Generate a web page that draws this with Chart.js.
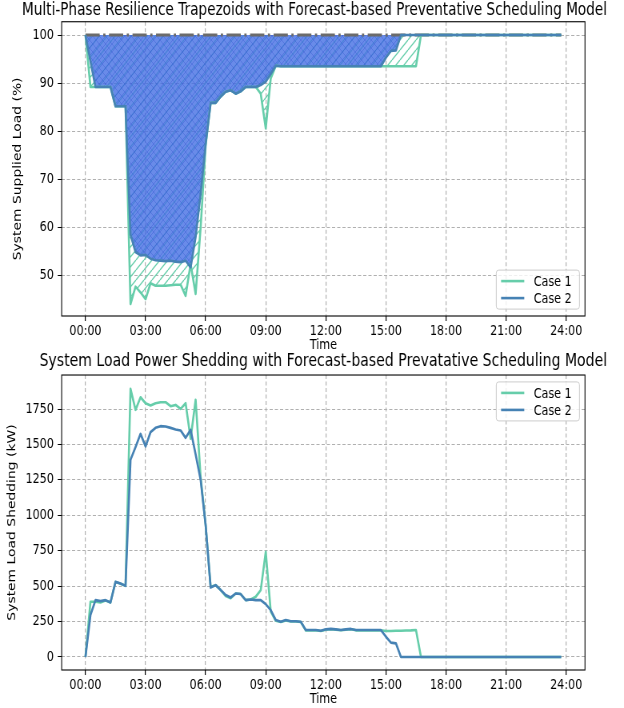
<!DOCTYPE html>
<html>
<head>
<meta charset="utf-8">
<script src="https://cdn.jsdelivr.net/npm/chart.js@4.4.0/dist/chart.umd.min.js"></script>
<style>
  html, body { margin: 0; padding: 0; background: #fff; }
  body { width: 624px; height: 708px; position: relative; overflow: hidden; }
  canvas { position: absolute; left: 0; }
</style>
</head>
<body>
<!-- the reference is horizontally squeezed, so the canvases are drawn wider and scaled down -->
<canvas id="supplyChart" width="780" height="354" style="top:0;width:624px;height:354px"></canvas>
<canvas id="sheddingChart" width="780" height="358" style="top:350px;width:624px;height:358px"></canvas>
<script>
// time of day in hours, one point every 15 minutes
const times = Array.from({length: 96}, (_, i) => i * 0.25);

const hourTicks = [0, 3, 6, 9, 12, 15, 18, 21, 24];
const supplyTicks = [50, 60, 70, 80, 90, 100];
const sheddingTicks = [0, 250, 500, 750, 1000, 1250, 1500, 1750];
const nominalLoad = 100;

// System supplied load (%)
const case1Supply = [
  100, 89.2, 89.2, 89.2, 89.2, 89.2, 85.2, 85.2, 85.2, 44.1,
  47.7, 46.5, 45.1, 48.4, 47.9, 47.9, 47.9, 48.0, 48.1, 48.1,
  45.8, 52.4, 46.2, 60.0, 77.0, 85.9, 85.9, 87.2, 88.2, 88.5,
  87.8, 88.3, 89.2, 89.2, 89.2, 87.8, 80.6, 91.0, 93.6, 93.5,
  93.5, 93.5, 93.5, 93.5, 93.5, 93.5, 93.5, 93.5, 93.5, 93.5,
  93.5, 93.5, 93.5, 93.5, 93.5, 93.5, 93.5, 93.5, 93.5, 93.5,
  93.5, 93.5, 93.5, 93.5, 93.5, 93.5, 93.5, 100, 100, 100,
  100, 100, 100, 100, 100, 100, 100, 100, 100, 100,
  100, 100, 100, 100, 100, 100, 100, 100, 100, 100,
  100, 100, 100, 100, 100, 100
];
const case2Supply = [
  100, 94.5, 89.2, 89.2, 89.2, 89.2, 85.2, 85.2, 85.2, 58.5,
  54.9, 54.2, 54.3, 53.5, 53.2, 53.1, 53.0, 53.1, 52.9, 52.8,
  53.1, 51.7, 58.0, 67.0, 77.4, 85.9, 85.9, 87.2, 88.2, 88.5,
  87.8, 88.3, 89.2, 89.2, 89.2, 89.6, 90.3, 91.9, 93.6, 93.5,
  93.5, 93.5, 93.5, 93.5, 93.5, 93.5, 93.5, 93.5, 93.5, 93.5,
  93.5, 93.5, 93.5, 93.5, 93.5, 93.5, 93.5, 93.5, 93.5, 93.5,
  95.3, 96.7, 96.8, 100, 100, 100, 100, 100, 100, 100,
  100, 100, 100, 100, 100, 100, 100, 100, 100, 100,
  100, 100, 100, 100, 100, 100, 100, 100, 100, 100,
  100, 100, 100, 100, 100, 100
];

// System load shedding (kW)
const case1Shed = [
  0, 390, 390, 385, 398, 385, 530, 516, 502, 1892,
  1744, 1833, 1791, 1775, 1791, 1798, 1798, 1770, 1779, 1751,
  1791, 1540, 1815, 1270, 930, 495, 507, 472, 430, 415,
  448, 444, 401, 406, 425, 472, 742, 320, 255, 247,
  258, 250, 250, 247, 187, 187, 188, 183, 192, 196,
  192, 188, 192, 196, 188, 188, 188, 188, 188, 188,
  183, 183, 185, 185, 187, 188, 190, 0, 0, 0,
  0, 0, 0, 0, 0, 0, 0, 0, 0, 0,
  0, 0, 0, 0, 0, 0, 0, 0, 0, 0,
  0, 0, 0, 0, 0, 0
];
const case2Shed = [
  0, 296, 401, 394, 401, 385, 530, 519, 502, 1392,
  1481, 1575, 1486, 1587, 1617, 1629, 1627, 1617, 1606, 1599,
  1547, 1603, 1430, 1250, 930, 490, 507, 472, 437, 420,
  448, 444, 401, 406, 401, 401, 373, 331, 261, 249,
  261, 252, 252, 249, 190, 190, 190, 185, 195, 198,
  195, 190, 195, 198, 190, 190, 190, 190, 190, 190,
  143, 101, 96, 0, 0, 0, 0, 0, 0, 0,
  0, 0, 0, 0, 0, 0, 0, 0, 0, 0,
  0, 0, 0, 0, 0, 0, 0, 0, 0, 0,
  0, 0, 0, 0, 0, 0
];

const case1Color = '#66cdaa';
const case2Color = '#4682b4';

Chart.defaults.font.family = '"DejaVu Sans", sans-serif';
Chart.defaults.color = '#000';

function makeHatch(ctx, size, bg, lineColor, lineWidth, cross) {
  const c = document.createElement('canvas');
  c.width = size;
  c.height = size;
  const g = c.getContext('2d');
  if (bg) {
    g.fillStyle = bg;
    g.fillRect(0, 0, size, size);
  }
  g.strokeStyle = lineColor;
  g.lineWidth = lineWidth;
  g.beginPath();
  for (let k = -1; k <= 1; k++) {
    g.moveTo(k * size, size);
    g.lineTo(k * size + size, 0);
    if (cross) {
      g.moveTo(k * size, 0);
      g.lineTo(k * size + size, size);
    }
  }
  g.stroke();
  return ctx.createPattern(c, 'repeat');
}

function roundedBox(ctx, x, y, w, h, r) {
  ctx.beginPath();
  ctx.moveTo(x + r, y);
  ctx.arcTo(x + w, y, x + w, y + h, r);
  ctx.arcTo(x + w, y + h, x, y + h, r);
  ctx.arcTo(x, y + h, x, y, r);
  ctx.arcTo(x, y, x + w, y, r);
  ctx.closePath();
}

// matplotlib-like frame, centred title and legend inside the axes
const axesDecor = {
  id: 'axesDecor',
  afterLayout(chart, args, opts) {
    const t = chart.titleBlock, a = chart.chartArea;
    const half = (t.right - t.left) / 2;
    const c = (a.left + a.right) / 2 + (opts.titleShift || 0);
    t.left = c - half;
    t.right = c + half;
  },
  afterDatasetsDraw(chart) {
    const {ctx, chartArea: a} = chart;
    ctx.save();
    ctx.strokeStyle = '#000';
    ctx.lineWidth = 1.1;
    ctx.strokeRect(a.left, a.top, a.right - a.left, a.bottom - a.top);
    ctx.restore();
  },
  afterDraw(chart, args, opts) {
    const {ctx, chartArea: a} = chart;
    const items = chart.data.datasets.filter(d => d.label);
    const w = 104, h = 39, gap = 6.9;
    const x0 = a.right - gap - w;
    const y0 = opts.corner === 'top' ? a.top + gap : a.bottom - gap - h;
    ctx.save();
    roundedBox(ctx, x0, y0, w, h, 3);
    ctx.fillStyle = 'rgba(255,255,255,0.8)';
    ctx.fill();
    ctx.strokeStyle = '#cccccc';
    ctx.lineWidth = 1;
    ctx.stroke();
    items.forEach((d, i) => {
      const y = y0 + 11 + i * 17;
      ctx.strokeStyle = d.borderColor;
      ctx.lineWidth = d.borderWidth;
      ctx.beginPath();
      ctx.moveTo(x0 + 6, y);
      ctx.lineTo(x0 + 35, y);
      ctx.stroke();
      ctx.fillStyle = '#000';
      ctx.font = '13.9px "DejaVu Sans", sans-serif';
      ctx.textBaseline = 'middle';
      ctx.textAlign = 'left';
      ctx.fillText(d.label, x0 + 47, y + 1);
    });
    ctx.restore();
  }
};

function timeAxis() {
  return {
    type: 'linear',
    min: -1.1875,
    max: 24.9375,
    afterBuildTicks: s => { s.ticks = hourTicks.map(v => ({value: v})); },
    afterFit: s => { s.height = 38; },
    ticks: {
      callback: v => String(v).padStart(2, '0') + ':00',
      font: {size: 13.9},
      padding: 2.5,
      maxRotation: 0,
      autoSkip: false
    },
    grid: { color: '#b0b0b0', lineWidth: 1.2, tickColor: '#000', tickLength: 4.9, tickWidth: 1.2, tickBorderDash: [] },
    border: { display: false, dash: [4, 2.5] },
    title: { display: true, text: 'Time', font: {size: 13.9}, padding: {top: 0, bottom: 0} }
  };
}

function valueAxis(min, max, tickList, label, titlePad) {
  return {
    min: min,
    max: max,
    afterBuildTicks: s => { s.ticks = tickList.map(v => ({value: v})); },
    afterFit: s => { s.width = 77.1; },
    ticks: { callback: v => String(v), font: {size: 13.9}, padding: 4.9 },
    grid: { color: '#b0b0b0', lineWidth: 1, tickColor: '#000', tickLength: 4.9, tickWidth: 1, tickBorderDash: [] },
    border: { display: false, dash: [4, 2.5] },
    title: { display: true, text: label, font: {size: 13.9}, padding: {top: titlePad, bottom: 0} }
  };
}

// Resilience trapezoids chart
const supplyCtx = document.getElementById('supplyChart').getContext('2d');
const blueHatch = makeHatch(supplyCtx, 8, 'rgba(68,110,228,0.8)', 'rgba(50,85,205,0.38)', 1, true);
const greenHatch = makeHatch(supplyCtx, 10, null, case1Color, 1.3, false);

const supplyChart = new Chart(supplyCtx, {
  type: 'line',
  data: {
    labels: times,
    datasets: [{
      label: 'Case 1',
      data: case1Supply,
      borderColor: case1Color,
      backgroundColor: greenHatch,
      borderWidth: 2.6,
      fill: {value: nominalLoad},
      order: 2
    }, {
      label: 'Case 2',
      data: case2Supply,
      borderColor: case2Color,
      backgroundColor: blueHatch,
      borderWidth: 2.6,
      fill: {value: nominalLoad},
      order: 1
    }, {
      data: [{x: times[0], y: nominalLoad}, {x: times[times.length - 1], y: nominalLoad}],
      borderColor: '#6b6b6b',
      borderWidth: 2.8,
      borderDash: [17.8, 4.4, 2.8, 4.4],
      fill: false,
      order: 3
    }]
  },
  options: {
    responsive: false,
    devicePixelRatio: 1,
    animation: false,
    events: [],
    layout: { padding: {left: 0, right: 48.75, top: 0, bottom: 0} },
    elements: {
      point: { radius: 0 },
      line: { tension: 0, borderJoinStyle: 'round' }
    },
    scales: {
      x: timeAxis(),
      y: valueAxis(41.6, 102.76, supplyTicks, 'System Supplied Load (%)', 14.5)
    },
    plugins: {
      filler: { drawTime: 'beforeDatasetsDraw' },
      legend: { display: false },
      tooltip: { enabled: false },
      title: {
        display: true,
        text: 'Multi-Phase Resilience Trapezoids with Forecast-based Preventative Scheduling Model',
        font: {size: 17.2, weight: 'normal'},
        padding: {top: 0, bottom: 1.1}
      },
      axesDecor: { corner: 'bottom', titleShift: -11 }
    }
  },
  plugins: [axesDecor]
});

// Load shedding chart
const sheddingCtx = document.getElementById('sheddingChart').getContext('2d');
const sheddingChart = new Chart(sheddingCtx, {
  type: 'line',
  data: {
    labels: times,
    datasets: [{
      label: 'Case 1',
      data: case1Shed,
      borderColor: case1Color,
      borderWidth: 2.6,
      fill: false,
      order: 2
    }, {
      label: 'Case 2',
      data: case2Shed,
      borderColor: case2Color,
      borderWidth: 2.6,
      fill: false,
      order: 1
    }]
  },
  options: {
    responsive: false,
    devicePixelRatio: 1,
    animation: false,
    events: [],
    layout: { padding: {left: 0, right: 48.75, top: 0, bottom: 0} },
    elements: {
      point: { radius: 0 },
      line: { tension: 0, borderJoinStyle: 'round' }
    },
    scales: {
      x: timeAxis(),
      y: valueAxis(-92, 1990, sheddingTicks, 'System Load Shedding (kW)', 7)
    },
    plugins: {
      legend: { display: false },
      tooltip: { enabled: false },
      title: {
        display: true,
        text: 'System Load Power Shedding with Forecast-based Prevatative Scheduling Model',
        font: {size: 17.6, weight: 'normal'},
        padding: {top: 0.5, bottom: 3.4}
      },
      axesDecor: { corner: 'top' }
    }
  },
  plugins: [axesDecor]
});
</script>
</body>
</html>
